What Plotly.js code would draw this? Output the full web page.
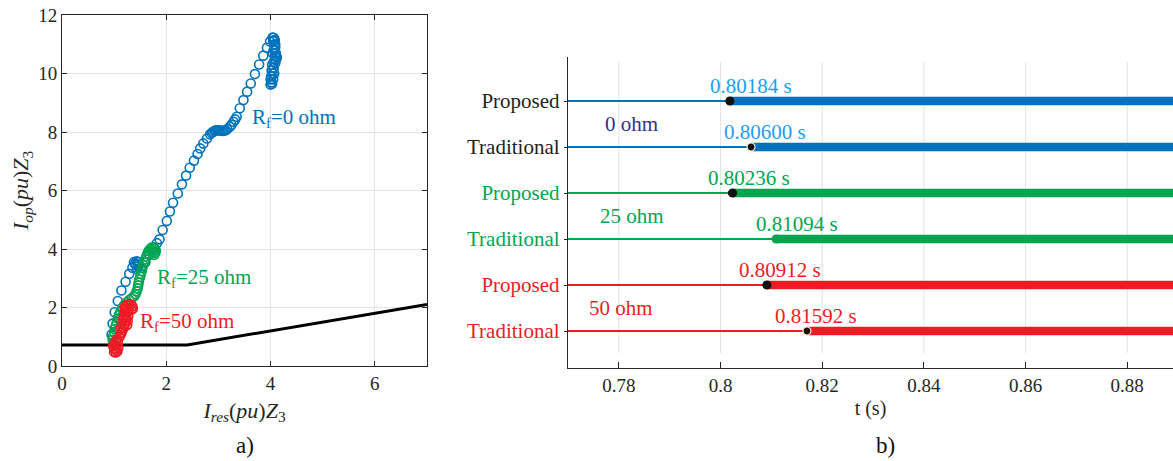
<!DOCTYPE html>
<html>
<head>
<meta charset="utf-8">
<script src="https://cdn.plot.ly/plotly-3.0.1.min.js"></script>
<style>html,body{margin:0;padding:0;background:#fff;}#chart{width:1173px;height:461px;}</style>
</head>
<body>
<div id="chart"></div>
<script>
// ---------- Panel a) data ----------
const thresholdX = [0, 2.4, 7];
const thresholdY = [0.72, 0.72, 2.1];

const rf0X = [0.95,0.97,1.01,1.07,1.14,1.22,1.29,1.35,1.40,1.43,1.46,1.47,1.46,1.44,1.42,1.38,1.52,1.60,1.68,1.76,1.82,
  1.87,1.93,2.01,2.07,2.13,2.22,2.30,2.38,2.45,2.53,2.60,2.65,2.71,2.78,2.84,2.87,2.90,2.93,2.95,2.98,3.01,3.04,3.07,3.10,3.14,3.17,3.22,3.25,3.29,3.32,3.35,3.41,3.48,3.55,3.62,3.70,3.78,3.86,3.93,3.99,4.04,
  4.06,4.08,4.05,4.07,4.09,4.06,4.04,4.08,4.12,4.10,4.06,4.03,4.05,4.02,4.04,4.01,4.00,4.02,4.00,4.03,4.05,4.07,4.06,4.09,4.11,4.10,4.08,4.09,4.07];
const rf0Y = [1.08,1.45,1.84,2.22,2.58,2.88,3.15,3.36,3.50,3.58,3.56,3.48,3.40,3.32,3.45,3.55,3.35,3.55,3.80,4.05,4.20,
  4.33,4.65,4.96,5.28,5.58,5.90,6.21,6.51,6.78,7.02,7.25,7.44,7.61,7.78,7.92,7.97,8.01,8.04,8.06,8.06,8.06,8.05,8.04,8.04,8.06,8.10,8.18,8.25,8.35,8.43,8.52,8.81,9.09,9.38,9.66,9.98,10.31,10.61,10.88,11.09,11.23,
  11.22,11.15,11.10,11.00,10.90,10.80,10.70,10.60,10.55,10.45,10.40,10.30,10.20,10.10,10.00,9.90,9.80,9.70,9.62,9.65,9.80,10.00,10.20,10.35,10.60,10.70,10.80,11.00,11.12];

const rf25X = [0.98,0.97,0.98,1.00,1.01,1.03,1.05,1.07,1.09,1.12,1.15,1.19,1.24,1.29,1.34,1.38,1.41,1.43,1.45,1.46,1.47,1.48,1.50,1.51,1.53,1.54,1.56,1.58,1.60,1.62,1.64,1.66,1.69,1.72,1.75,1.78,1.80,1.79,1.77,1.74,1.71];
const rf25Y = [0.78,0.90,1.02,1.14,1.26,1.38,1.50,1.62,1.74,1.86,1.98,2.08,2.18,2.26,2.32,2.38,2.45,2.55,2.65,2.75,2.85,2.95,3.05,3.15,3.25,3.35,3.45,3.55,3.65,3.75,3.85,3.93,4.00,4.05,4.06,4.02,3.95,3.87,3.80,3.88,3.95];

const rf50X = [1.00,1.03,1.06,1.04,1.00,0.98,1.01,1.05,1.08,1.07,1.03,1.06,1.10,1.12,1.14,1.16,1.18,1.20,1.21,1.22,1.22,1.23,1.22,1.21,1.20,1.21,1.24,1.28,1.32,1.35,1.36,1.33,1.28,1.25,1.13,1.15,1.17,1.19,1.25,1.26,1.27];
const rf50Y = [0.48,0.46,0.50,0.56,0.60,0.68,0.74,0.70,0.62,0.80,0.86,0.92,0.98,1.06,1.14,1.22,1.30,1.38,1.46,1.54,1.62,1.70,1.78,1.86,1.94,2.02,2.08,2.12,2.10,2.04,1.96,1.92,1.95,1.88,1.30,1.45,1.60,1.72,1.40,1.55,1.70];

// ---------- Panel b) data ----------
const rowNames = ['Proposed','Traditional','Proposed','Traditional','Proposed','Traditional'];
const rowPos = [6,5,4,3,2,1];
const tripTimes = [0.80184,0.80600,0.80236,0.81094,0.80912,0.8170];
const tripLabels = ['0.80184 s','0.80600 s','0.80236 s','0.81094 s','0.80912 s','0.81592 s'];
const groupNames = ['0 ohm','25 ohm','50 ohm'];
const groupPos = [5.5,3.5,1.5];
const tTicks = [0.78,0.8,0.82,0.84,0.86,0.88];
const tTickText = ['0.78','0.8','0.82','0.84','0.86','0.88'];
const tStart = 0.77, tEnd = 0.895;

// ---------- styles ----------
const BLUE='#0072BD', GREEN='#00A54F', RED='#ED1C24', LBLUE='#1E9DF5', NAVY='#2E3192';
const rowColors=[BLUE,BLUE,GREEN,GREEN,RED,RED];
const rowLabelColors=['#231F20','#231F20',GREEN,GREEN,RED,RED];
const tLabelColors=[LBLUE,LBLUE,GREEN,GREEN,RED,RED];
const groupColors=[NAVY,GREEN,RED];
const dotColors=['#111','#111','#111',GREEN,'#111','#111'];
const dotLine=['#111','#FFF3C8','#111',GREEN,'#111','#FFF3C8'];
const labelXShift=[21,14,16,21,13,9];
const SERIF='Liberation Serif';

const traces=[];
traces.push({x:thresholdX,y:thresholdY,mode:'lines',line:{color:'#000',width:3},xaxis:'x',yaxis:'y',hoverinfo:'skip'});
function circ(x,y,c){return {x:x,y:y,mode:'markers',xaxis:'x',yaxis:'y',marker:{symbol:'circle-open',size:9,color:c,line:{width:1.6,color:c}},cliponaxis:true};}
traces.push(circ(rf0X,rf0Y,BLUE));
traces.push(circ(rf25X,rf25Y,GREEN));
traces.push(circ(rf50X,rf50Y,RED));

for(let i=0;i<rowPos.length;i++){
  traces.push({x:[tStart,tripTimes[i]],y:[rowPos[i],rowPos[i]],mode:'lines',line:{color:rowColors[i],width:2.2},xaxis:'x2',yaxis:'y2'});
  traces.push({x:[tripTimes[i],tEnd],y:[rowPos[i],rowPos[i]],mode:'lines',line:{color:rowColors[i],width:8.5},xaxis:'x2',yaxis:'y2'});
  traces.push({x:[tripTimes[i]],y:[rowPos[i]],mode:'markers',marker:{size:8,color:dotColors[i],line:{width:1.2,color:dotLine[i]}},xaxis:'x2',yaxis:'y2',cliponaxis:false});
}

const ann=[];
ann.push({x:3.6,y:8.48,xref:'x',yref:'y',xanchor:'left',text:'R<sub>f</sub>=0 ohm',showarrow:false,font:{family:SERIF,size:21,color:BLUE}});
ann.push({x:1.78,y:3.0,xref:'x',yref:'y',xanchor:'left',text:'R<sub>f</sub>=25 ohm',showarrow:false,font:{family:SERIF,size:21,color:GREEN}});
ann.push({x:1.46,y:1.5,xref:'x',yref:'y',xanchor:'left',text:'R<sub>f</sub>=50 ohm',showarrow:false,font:{family:SERIF,size:21,color:RED}});
for(let i=0;i<rowPos.length;i++){
  ann.push({x:tripTimes[i],y:rowPos[i],xref:'x2',yref:'y2',text:tripLabels[i],showarrow:false,xshift:labelXShift[i],yshift:15,font:{family:SERIF,size:21,color:tLabelColors[i]}});
}
const groupX=[0.7825,0.7825,0.7805];
for(let i=0;i<groupNames.length;i++){
  ann.push({x:groupX[i],y:groupPos[i],xref:'x2',yref:'y2',text:groupNames[i],showarrow:false,font:{family:SERIF,size:21,color:groupColors[i]}});
}
ann.push({x:22/1173,y:1-191/461,xref:'paper',yref:'paper',xanchor:'center',yanchor:'middle',textangle:-90,
  text:'<i>I</i><sub><i>op</i></sub>(<i>pu</i>)<i>Z</i><sub>3</sub>',showarrow:false,font:{family:SERIF,size:22,color:'#262626'}});
ann.push({x:245/1173,y:1-445/461,xref:'paper',yref:'paper',xanchor:'center',yanchor:'middle',text:'a)',showarrow:false,font:{family:SERIF,size:23,color:'#111'}});
ann.push({x:885/1173,y:1-445/461,xref:'paper',yref:'paper',xanchor:'center',yanchor:'middle',text:'b)',showarrow:false,font:{family:SERIF,size:23,color:'#111'}});

// vertical grid lines of panel b (they stop short of the axes in the reference)
const shapes=tTicks.map(t=>({type:'line',xref:'x2',yref:'paper',x0:t,x1:t,y0:1-353/461,y1:1-62/461,line:{color:'#E3E3E3',width:1},layer:'below'}));

const tickText=rowNames.map((n,i)=>'<span style="color:'+rowLabelColors[i]+'">'+n+'</span>');

const layout={
  width:1173,height:461,margin:{l:0,r:0,t:0,b:0},paper_bgcolor:'#fff',plot_bgcolor:'rgba(0,0,0,0)',showlegend:false,
  font:{family:SERIF,color:'#262626'},
  xaxis:{domain:[62/1173,427/1173],range:[0,7],tickvals:[0,2,4,6],ticks:'inside',ticklen:5,tickcolor:'#262626',
    showline:true,mirror:'ticks',linecolor:'#262626',linewidth:1,showgrid:true,gridcolor:'#E3E3E3',zeroline:false,
    tickfont:{family:SERIF,size:19,color:'#262626'},
    title:{text:'<i>I</i><sub><i>res</i></sub>(<i>pu</i>)<i>Z</i><sub>3</sub>',font:{family:SERIF,size:22,color:'#262626'},standoff:9}},
  yaxis:{domain:[1-366/461,1-15/461],range:[0,12],tickvals:[0,2,4,6,8,10,12],ticks:'inside',ticklen:5,tickcolor:'#262626',
    showline:true,mirror:'ticks',linecolor:'#262626',linewidth:1,showgrid:true,gridcolor:'#E3E3E3',zeroline:false,
    tickfont:{family:SERIF,size:19,color:'#262626'}},
  xaxis2:{domain:[568/1173,1],range:[0.77,0.889],anchor:'y2',tickvals:tTicks,ticktext:tTickText,
    ticks:'inside',ticklen:6,tickcolor:'#262626',showline:true,linecolor:'#262626',linewidth:1.2,showgrid:false,zeroline:false,
    tickfont:{family:SERIF,size:19,color:'#262626'},
    title:{text:'t (s)',font:{family:SERIF,size:20,color:'#262626'},standoff:6}},
  yaxis2:{domain:[1-368/461,1-57/461],range:[0.196,6.957],anchor:'x2',tickvals:rowPos,ticktext:tickText,
    ticks:'outside',ticklen:3,tickcolor:'#262626',showline:true,linecolor:'#262626',linewidth:1.2,showgrid:false,zeroline:false,
    tickfont:{family:SERIF,size:21,color:'#231F20'}},
  shapes:shapes,
  annotations:ann
};
Plotly.newPlot('chart',traces,layout,{staticPlot:true,displayModeBar:false});
</script>
</body>
</html>
